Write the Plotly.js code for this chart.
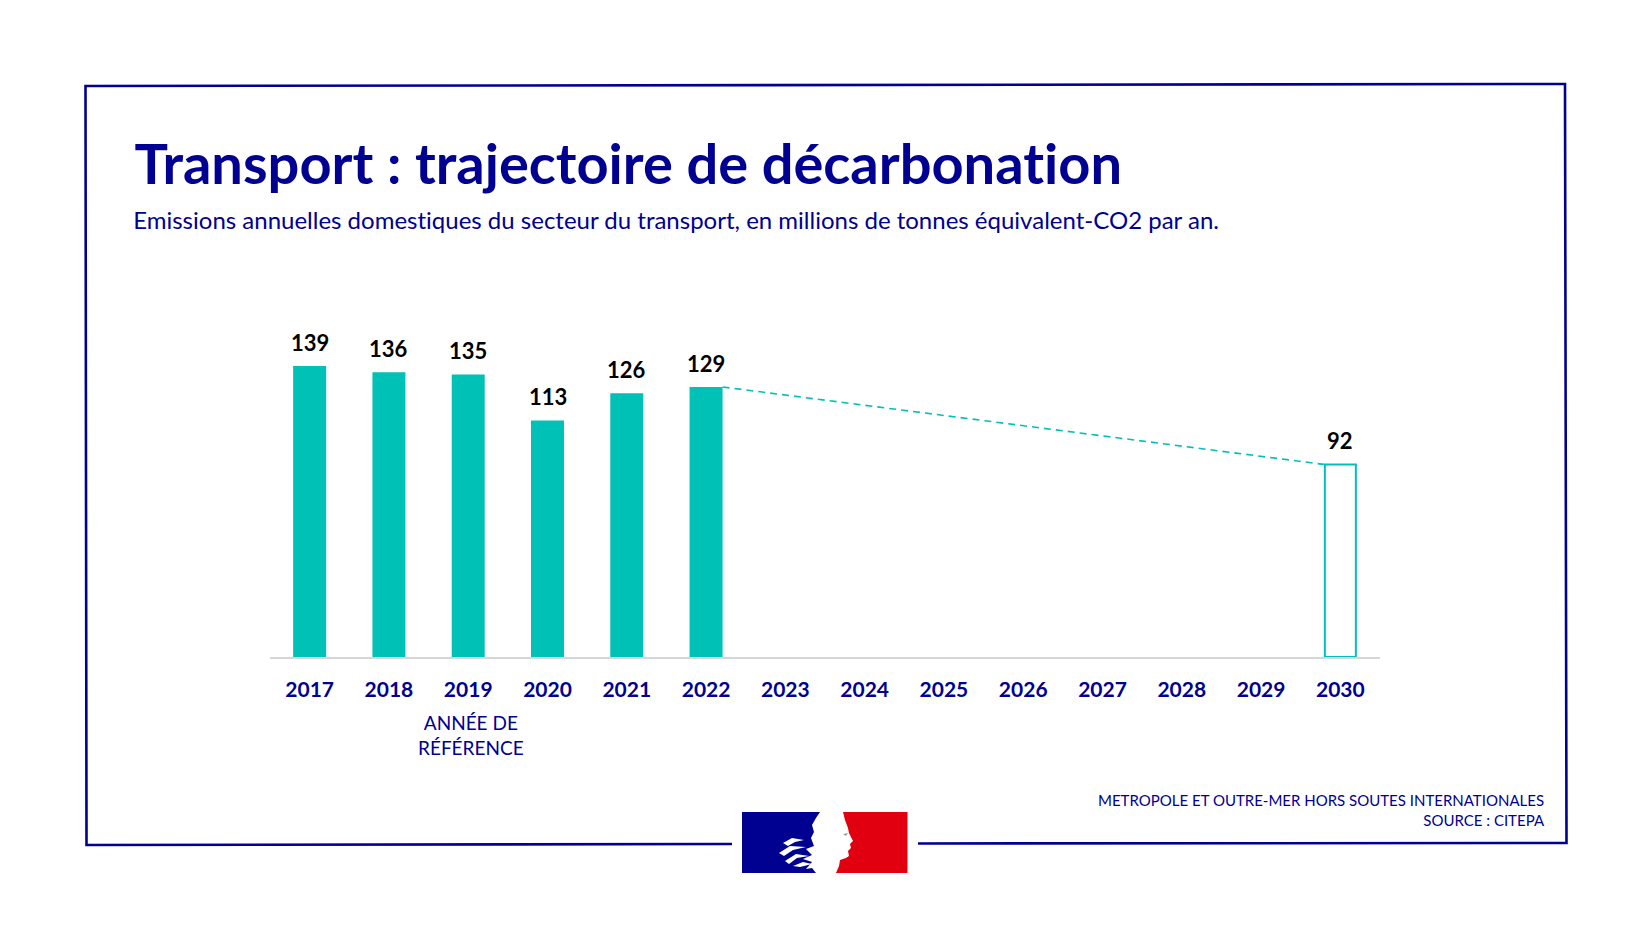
<!DOCTYPE html>
<html>
<head>
<meta charset="utf-8">
<script src="https://cdn.plot.ly/plotly-3.0.1.min.js"></script>
<style>html,body{margin:0;padding:0;background:#fff;}#chart{width:1650px;height:928px;}
#chart text{font-variant-ligatures:none;font-feature-settings:"liga" 0;}</style>
</head>
<body>
<div id="chart"></div>
<script>
// ---- data ----
var years = [2017, 2018, 2019, 2020, 2021, 2022, 2023, 2024, 2025, 2026, 2027, 2028, 2029, 2030];
var measuredYears = [2017, 2018, 2019, 2020, 2021, 2022];
var measuredValues = [139, 136, 135, 113, 126, 129];
var targetYears = [2030];
var targetValues = [92];
var tickLabels = ['2017','2018','2019','2020','2021','2022','2023','2024','2025','2026','2027','2028','2029','2030'];
var titleText = 'Transport : trajectoire de décarbonation';
var subtitleText = 'Emissions annuelles domestiques du secteur du transport, en millions de tonnes équivalent-CO2 par an.';
var refNote = 'ANNÉE DE<br>RÉFÉRENCE';
var refYear = 2019;
var footerText = 'METROPOLE ET OUTRE-MER HORS SOUTES INTERNATIONALES<br>SOURCE : CITEPA';

// ---- styling ----
var W = 1650, H = 928;
var M = {l: 270, r: 270, t: 343, b: 271};
var PW = W - M.l - M.r, PH = H - M.t - M.b;
function px(x){ return (x - M.l) / PW; }
function py(y){ return (H - M.b - y) / PH; }
var BLUE = '#000091', TEAL = '#00C1B6', BARW = 0.416;
var FONT = 'Lato, "Open Sans", sans-serif';

var lastM = measuredYears.length - 1;
var traces = [
  {type: 'bar', x: measuredYears, y: measuredValues, width: BARW,
   marker: {color: TEAL, line: {width: 0}}, hoverinfo: 'x+y'},
  {type: 'bar', x: targetYears, y: targetValues, width: BARW - 0.025,
   marker: {color: '#ffffff', line: {color: TEAL, width: 2}}, hoverinfo: 'x+y'},
  {type: 'scatter', mode: 'lines',
   x: [measuredYears[lastM] + BARW / 2, targetYears[0] - BARW / 2],
   y: [measuredValues[lastM], targetValues[0]],
   line: {color: TEAL, width: 1.6, dash: '7px,5px'}, hoverinfo: 'skip'}
];

var annotations = [];
measuredYears.concat(targetYears).forEach(function(yr, i){
  var v = measuredValues.concat(targetValues)[i];
  annotations.push({x: yr, y: v, xref: 'x', yref: 'y', text: '<b>' + v + '</b>', showarrow: false,
    yanchor: 'bottom', yshift: 8, font: {family: FONT, size: 22, color: '#000'}});
});
annotations.push({x: px(132), y: py(163), xref: 'paper', yref: 'paper', xanchor: 'left', yanchor: 'middle',
  text: '<b>' + titleText + '</b>', showarrow: false, font: {family: FONT, size: 56, color: BLUE}});
annotations.push({x: px(131), y: py(219), xref: 'paper', yref: 'paper', xanchor: 'left', yanchor: 'middle',
  text: subtitleText, showarrow: false, font: {family: FONT, size: 24, color: BLUE}});
annotations.push({x: refYear, y: py(735), xref: 'x', yref: 'paper', xanchor: 'center', yanchor: 'middle', xshift: 3,
  text: refNote, showarrow: false, align: 'center', font: {family: FONT, size: 19, color: BLUE}});
annotations.push({x: px(1547), y: py(810), xref: 'paper', yref: 'paper', xanchor: 'right', yanchor: 'middle',
  text: footerText, showarrow: false, align: 'right', font: {family: FONT, size: 15, color: BLUE}});

function pathP(pts){
  return pts.map(function(p, i){ return (i ? 'L' : 'M') + px(p[0]).toFixed(5) + ',' + py(p[1]).toFixed(5); }).join(' ') + ' Z';
}
var shapes = [
  // frame (with gap for logo)
  {type: 'path', xref: 'paper', yref: 'paper', path:
    'M' + px(732) + ',' + py(844) + ' L' + px(86.5) + ',' + py(845) + ' L' + px(85.5) + ',' + py(86) +
    ' L' + px(1565) + ',' + py(84) + ' L' + px(1566.5) + ',' + py(843) + ' L' + px(918) + ',' + py(843.5),
   line: {color: BLUE, width: 2.6}},
  // logo blue and red
  {type: 'rect', xref: 'paper', yref: 'paper', x0: px(742), x1: px(826), y0: py(812), y1: py(873),
   fillcolor: BLUE, line: {width: 0}},
  {type: 'rect', xref: 'paper', yref: 'paper', x0: px(826), x1: px(907.5), y0: py(812), y1: py(873),
   fillcolor: '#E1000F', line: {width: 0}},
  // Marianne silhouette (white)
  {type: 'path', xref: 'paper', yref: 'paper', fillcolor: '#ffffff', line: {width: 0}, path: pathP([
    [820, 812], [843, 812], [845, 820], [848, 828], [849, 833], [853, 841], [850, 844], [851, 848],
    [848, 851], [849, 856], [846, 858], [840, 860], [839, 866], [836, 873], [816, 873], [812, 868],
    [806, 869], [812, 862], [803, 859], [812, 855], [806, 849], [814, 846], [811, 838], [814, 832],
    [812, 825], [816, 818]])},
  {type: 'path', xref: 'paper', yref: 'paper', fillcolor: '#ffffff', line: {width: 0}, path: pathP([
    [783, 843], [792, 838], [804, 840], [795, 842], [788, 846]])},
  {type: 'path', xref: 'paper', yref: 'paper', fillcolor: '#ffffff', line: {width: 0}, path: pathP([
    [779, 853], [790, 846], [806, 847], [793, 850], [784, 856]])},
  {type: 'path', xref: 'paper', yref: 'paper', fillcolor: '#ffffff', line: {width: 0}, path: pathP([
    [785, 861], [796, 854], [809, 856], [797, 858], [789, 864]])},
  {type: 'path', xref: 'paper', yref: 'paper', fillcolor: '#ffffff', line: {width: 0}, path: pathP([
    [793, 866], [803, 862], [812, 864], [800, 867]])},
  {type: 'path', xref: 'paper', yref: 'paper', fillcolor: '#9a9a9a', line: {width: 0}, path: pathP([
    [843, 834], [848, 833], [846, 836]])}
];

var layout = {
  width: W, height: H, margin: M, paper_bgcolor: '#fff', plot_bgcolor: '#fff',
  showlegend: false, barmode: 'overlay',
  xaxis: {type: 'linear', range: [years[0] - 0.5, years[years.length - 1] + 0.5],
    tickvals: years, ticktext: tickLabels.map(function(t){ return '<b>' + t + '</b>'; }),
    showgrid: false, zeroline: false, showline: true, linecolor: '#d6d6d6', linewidth: 2,
    ticks: '', ticklabelstandoff: 13, tickfont: {family: FONT, size: 21, color: BLUE}, fixedrange: true},
  yaxis: {range: [0, 150], visible: false, fixedrange: true},
  annotations: annotations, shapes: shapes
};
Plotly.newPlot('chart', traces, layout, {displayModeBar: false, staticPlot: true});
</script>
</body>
</html>
